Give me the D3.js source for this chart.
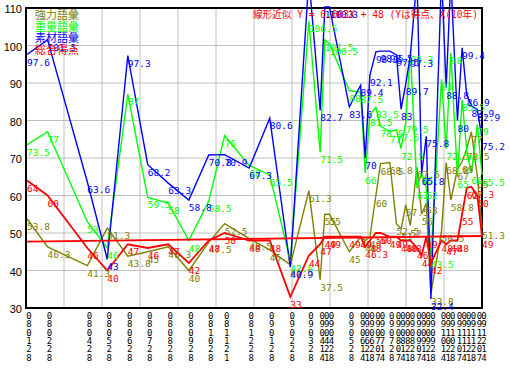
<!DOCTYPE html>
<html>
<head>
<meta charset="utf-8">
<script src="https://cdn.jsdelivr.net/npm/d3@7"></script>
<style>
body { margin: 0; background: #fff; }
</style>
</head>
<body>
<svg id="chart" width="510" height="371"></svg>
<script>
// dates (YYMMDD) on the x axis
const dates = ["080128","080228","080428","080528","080628","080728","080828","080928","081028","081121","081228",
  "090128","090228","090328","090414","090421","090428","090528","090614","090621","090628","090707","090714",
  "090728","090807","090814","090821","090828","090907","090914","090921","090928",
  "091014","091021","091028","091107","091114","091121","091128","091207","091214"];

// 強力語彙
const kyoryoku = [53.8,46.3,41.3,51.3,43.8,45,46.3,40,47.5,52.5,48.5,
  45.5,41.5,61.3,37.5,55,55,45,49,48,49,60,68.5,
  68.8,52.5,51,57.5,52,67.5,55,58,33.8,
  50.5,68.8,58.8,67,69,72.5,77,65,51.3];
// 重量語彙
const juryo = [73.5,77,53,46,87,59.5,58,48,58.5,76,68,
  65.5,42.5,106.5,71.5,101.5,100.5,88,87.5,66,81.5,83.5,78.5,
  77,77.5,72.5,79.5,98.3,62,66,62,43.5,
  91,72.5,98,65,85.5,72,66,79,65.5];
// 素材語彙
const sozai = [97.6,101.5,63.6,43,97.3,68.2,63.3,58.8,70.8,70.9,67.3,
  80.6,40.9,118,82.7,110.3,110.3,83.6,89.4,70,92.1,98.3,98.5,
  98.5,97.5,83,89.7,97.3,118,65.8,75.8,32.4,
  119,88.8,118,80,99.4,86.9,83.9,82.9,75.2];
// 総合得点
const sogo = [64,60,46,40,47,46,47,42,48,50,48,
  48,33,44,47,49,49,49,49,46.3,48,50,50,
  49,49,48,48,48,46,44,49,42,
  48,47,48,48,55,62,62.3,60,49];

const seriesNames = ["強力語彙", "重量語彙", "素材語彙", "総合得点"];
const seriesColors = ["#808000", "#00ff00", "#0000ff", "#ff0000"];
const seriesValues = [kyoryoku, juryo, sozai, sogo];

const yTicks = [30, 40, 50, 60, 70, 80, 90, 100, 110];

// 線形近似 (Y = 得点)
const regIntercept = 47.7;
const regSlopePerDay = 0.0022;
const regLabel = "線形近似 Y = 0.003X + 48 (Yは得点、X(10年)";

const parse = d3.timeParse("%y%m%d");
const days = dates.map(parse);

const svg = d3.select("#chart");
const plotL = 26, plotR = 482, plotT = 8, plotB = 308;

const x = d3.scaleTime()
  .domain(d3.extent(days))
  .range([plotL + 1, plotR]);
const y = d3.scaleLinear()
  .domain([30, 110])
  .range([plotB, plotT]);

svg.append("rect").attr("width", 510).attr("height", 371).attr("fill", "#fff");

// grid
svg.append("g").selectAll("line")
  .data(yTicks.slice(1, -1))
  .enter().append("line")
  .attr("x1", plotL).attr("x2", plotR)
  .attr("y1", d => y(d)).attr("y2", d => y(d))
  .attr("stroke", "#c0c0c0");
svg.append("g").selectAll("line")
  .data(d3.range(1, 12))
  .enter().append("line")
  .attr("x1", d => plotL + d * (plotR - plotL) / 12)
  .attr("x2", d => plotL + d * (plotR - plotL) / 12)
  .attr("y1", plotT).attr("y2", plotB)
  .attr("stroke", "#c0c0c0");

svg.append("rect")
  .attr("x", plotL).attr("y", plotT)
  .attr("width", plotR - plotL).attr("height", plotB - plotT)
  .attr("fill", "none").attr("stroke", "#000").attr("stroke-width", 2);

// y labels
svg.append("g").selectAll("text")
  .data(yTicks)
  .enter().append("text")
  .attr("x", 22)
  .attr("y", d => y(d) + 5)
  .attr("text-anchor", "end")
  .attr("font-family", "Liberation Sans, Arial, sans-serif")
  .attr("font-size", "11px")
  .text(d => d);

// x labels, one character per line
svg.append("g").selectAll("text")
  .data(dates)
  .enter().append("text")
  .attr("font-family", "DejaVu Sans Mono, monospace")
  .attr("font-size", "9px")
  .attr("text-anchor", "middle")
  .each(function (d, i) {
    const t = d3.select(this);
    d.split("").forEach((c, k) => {
      t.append("tspan")
        .attr("x", x(days[i]) + 2)
        .attr("y", 319 + k * 8.3)
        .text(c);
    });
  });

// series lines
const line = d3.line()
  .x((d, i) => x(days[i]))
  .y(d => y(d));

seriesValues.forEach((vals, s) => {
  svg.append("path")
    .datum(vals)
    .attr("d", line)
    .attr("fill", "none")
    .attr("stroke", seriesColors[s])
    .attr("stroke-width", s === 3 ? 1.8 : 1.4);
});

// value labels (those above the window are not visible in the original)
seriesValues.forEach((vals, s) => {
  svg.append("g").selectAll("text")
    .data(vals.map((v, i) => ({ v, i })).filter(d => y(d.v) + 11 > 8))
    .enter().append("text")
    .attr("x", d => x(days[d.i]))
    .attr("y", d => y(d.v) + 11)
    .attr("fill", seriesColors[s])
    .attr("font-family", "DejaVu Sans Mono, monospace")
    .attr("font-size", "9.5px")
    .text(d => d.v);
});

// regression line
const d0 = days[0];
const regPts = [days[0], days[days.length - 1]];
svg.append("line")
  .attr("x1", x(regPts[0])).attr("x2", x(regPts[1]))
  .attr("y1", y(regIntercept + regSlopePerDay * (regPts[0] - d0) / 864e5))
  .attr("y2", y(regIntercept + regSlopePerDay * (regPts[1] - d0) / 864e5))
  .attr("stroke", "#ff0000")
  .attr("stroke-width", 2);

svg.append("text")
  .attr("x", 253).attr("y", 18)
  .attr("fill", "#ff0000")
  .attr("font-family", "DejaVu Sans Mono, Noto Sans CJK JP, monospace")
  .attr("font-size", "10px")
  .attr("textLength", 225)
  .attr("lengthAdjust", "spacingAndGlyphs")
  .text(regLabel);

// legend
svg.append("g").selectAll("text")
  .data(seriesNames)
  .enter().append("text")
  .attr("x", 35)
  .attr("y", (d, i) => 19 + i * 11.7)
  .attr("fill", (d, i) => seriesColors[i])
  .attr("font-family", "Noto Sans CJK JP, sans-serif")
  .attr("font-size", "11px")
  .text(d => d);
</script>
</body>
</html>
